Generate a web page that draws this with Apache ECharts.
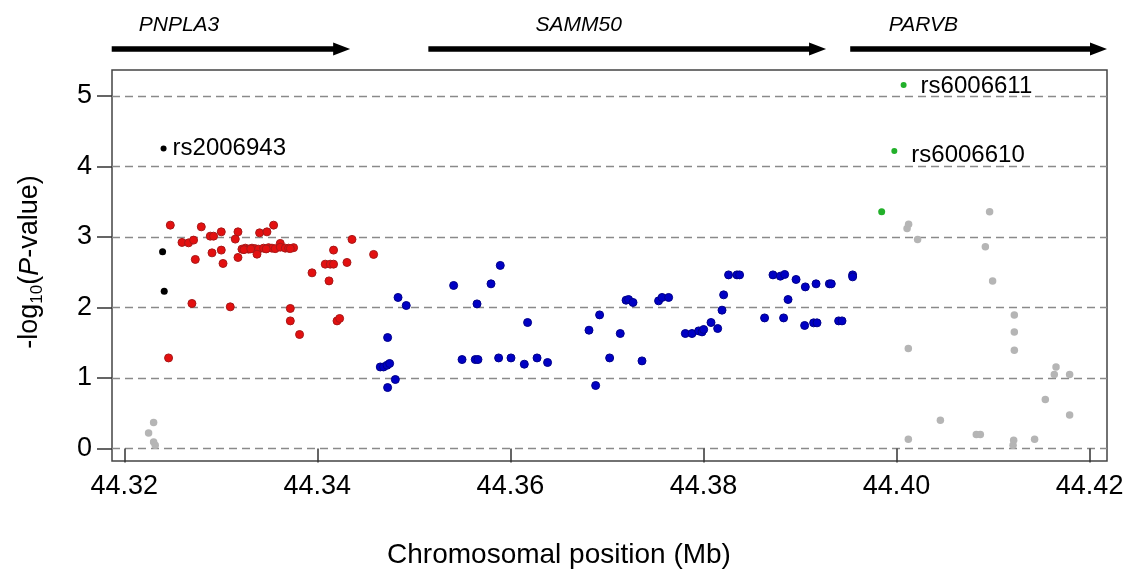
<!DOCTYPE html>
<html>
<head>
<meta charset="utf-8">
<script src="https://cdn.jsdelivr.net/npm/echarts@6/dist/echarts.min.js"></script>
<style>
html,body{margin:0;padding:0;background:#fff;}
#c{width:1132px;height:585px;}
</style>
</head>
<body>
<div id="c"></div>
<script>
// ---------------- data ----------------
const xTicks = [44.32, 44.34, 44.36, 44.38, 44.40, 44.42];
const yTicks = [0, 1, 2, 3, 4, 5];

const genes = ['PNPLA3', 'SAMM50', 'PARVB'];
const geneStart = [44.3187, 44.3515, 44.3952];
const geneEnd = [44.3434, 44.3927, 44.4218];
const geneLabelAt = [44.3215, 44.3626, 44.3992];

const snpIds = ['rs2006943', 'rs6006611', 'rs6006610'];
const snpPos = [44.32407, 44.40073, 44.39977];

const grayX = [44.32304, 44.32252, 44.32304, 44.32321,
  44.40964, 44.40125, 44.40109, 44.40218, 44.40920, 44.40995, 44.41220, 44.41220, 44.41220,
  44.40122, 44.41652, 44.41634, 44.41793, 44.41541, 44.41793, 44.40454, 44.40122, 44.40826,
  44.40868, 44.41213, 44.41207, 44.41430];
const grayY = [0.369, 0.221, 0.094, 0.047,
  3.356, 3.181, 3.121, 2.965, 2.860, 2.377, 1.895, 1.654, 1.394,
  1.418, 1.157, 1.050, 1.050, 0.695, 0.477, 0.401, 0.132, 0.199,
  0.199, 0.118, 0.047, 0.132];

const redX = [44.32477, 44.32798, 44.33005, 44.33178, 44.33402, 44.33478, 44.33547, 44.32598, 44.32666,
  44.32718, 44.32891, 44.32925, 44.33150, 44.32909, 44.33005, 44.33023, 44.32736, 44.33178,
  44.33219, 44.33254, 44.33288, 44.33323, 44.33357, 44.33391, 44.33443, 44.33495, 44.33530,
  44.33564, 44.33616, 44.33616, 44.33668, 44.33702, 44.33754, 44.33375, 44.33240, 44.33310,
  44.33470, 44.33720,
  44.33945, 44.34168, 44.34082, 44.34134, 44.34168, 44.34307, 44.34359, 44.34583, 44.34121,
  44.32701, 44.33098, 44.33720, 44.33720, 44.33816, 44.34204, 44.34231, 44.32459];
const redY = [3.167, 3.143, 3.072, 3.072, 3.058, 3.072, 3.167, 2.922, 2.916,
  2.955, 3.011, 3.011, 2.969, 2.774, 2.813, 2.624, 2.681, 2.709,
  2.827, 2.841, 2.827, 2.841, 2.834, 2.827, 2.841, 2.848, 2.841,
  2.834, 2.908, 2.855, 2.841, 2.841, 2.848, 2.756, 2.820, 2.830,
  2.830, 2.835,
  2.491, 2.813, 2.614, 2.614, 2.614, 2.638, 2.965, 2.752, 2.377,
  2.057, 2.009, 1.986, 1.810, 1.617, 1.810, 1.844, 1.285];

const blackX = [44.32407, 44.32397, 44.32414];
const blackY = [4.255, 2.789, 2.231];

const blueX = [44.34836, 44.34921, 44.34728, 44.34652, 44.34686, 44.34722, 44.34749, 44.34728, 44.34808,
  44.35412, 44.35499, 44.35636, 44.35664, 44.35654, 44.35799, 44.35895, 44.35878, 44.36006,
  44.36144, 44.36178, 44.36276, 44.36385, 44.36814, 44.36883, 44.36924, 44.37028, 44.37138,
  44.37198, 44.37224, 44.37270, 44.37363, 44.37535, 44.37571, 44.37639, 44.37812, 44.37881,
  44.37950, 44.37985, 44.38002, 44.38078, 44.38147, 44.38192, 44.38209, 44.38260, 44.38347,
  44.38374, 44.38633, 44.38720, 44.38796, 44.38841, 44.38830, 44.38876, 44.38959, 44.39055,
  44.39048, 44.39141, 44.39176, 44.39166, 44.39304, 44.39324, 44.39400, 44.39435, 44.39545,
  44.39545];
const blueY = [2.142, 2.028, 1.574, 1.157, 1.157, 1.181, 1.206, 0.865, 0.979,
  2.312, 1.262, 1.262, 1.262, 2.051, 2.335, 2.596, 1.285, 1.285,
  1.196, 1.787, 1.285, 1.220, 1.678, 0.894, 1.895, 1.285, 1.631,
  2.103, 2.113, 2.071, 1.243, 2.094, 2.142, 2.142, 1.631, 1.631,
  1.668, 1.654, 1.688, 1.787, 1.702, 1.962, 2.179, 2.462, 2.462,
  2.462, 1.852, 2.462, 2.444, 2.468, 1.852, 2.113, 2.397, 2.292,
  1.745, 1.782, 1.782, 2.335, 2.335, 2.335, 1.810, 1.810, 2.462,
  2.434];

const greenX = [44.40073, 44.39977, 44.39846];
const greenY = [5.153, 4.217, 3.356];

// ---------------- chart ----------------
const FONT = '"Liberation Sans", Arial, Helvetica, sans-serif';
const labelStyle = {
  rs2006943: { distance: 6, offset: [0, 0] },
  rs6006611: { distance: 14, offset: [0, 1] },
  rs6006610: { distance: 14, offset: [0, 4] }
};

function pts(xs, ys) {
  return xs.map((x, i) => {
    const k = snpPos.indexOf(x);
    if (k >= 0) {
      const id = snpIds[k];
      return {
        value: [x, ys[i]],
        symbolSize: 6,
        label: {
          show: true, position: 'right', formatter: id,
          distance: labelStyle[id].distance, offset: labelStyle[id].offset,
          fontSize: 24, color: '#000', fontFamily: FONT
        }
      };
    }
    return [x, ys[i]];
  });
}

function scatter(name, xs, ys, color, border, size) {
  return {
    name, type: 'scatter', data: pts(xs, ys), symbolSize: size,
    itemStyle: { color, borderColor: border, borderWidth: border ? 1 : 0, opacity: 1 },
    emphasis: { disabled: true }, silent: true, z: 3
  };
}

const geneData = genes.map((g, i) => [geneStart[i], geneEnd[i], geneLabelAt[i], i]);

const chart = echarts.init(document.getElementById('c'), null, { renderer: 'canvas' });
chart.setOption({
  animation: false,
  backgroundColor: '#fff',
  grid: {
    left: 112, right: 25, top: 70, bottom: 124,
    show: true, borderColor: '#444', borderWidth: 1.5, backgroundColor: 'transparent'
  },
  xAxis: {
    type: 'value', min: 44.31873, max: 44.4218,
    axisLine: { show: false },
    axisTick: { show: true, customValues: xTicks, length: 14, lineStyle: { color: '#333', width: 1.5 } },
    axisLabel: {
      customValues: xTicks, formatter: v => v.toFixed(2), fontSize: 27, color: '#000',
      fontFamily: FONT, margin: 12
    },
    splitLine: { show: false }
  },
  yAxis: {
    type: 'value', min: -0.176, max: 5.366,
    axisLine: { show: false },
    axisTick: { show: true, customValues: yTicks, length: 15, lineStyle: { color: '#333', width: 1.5 } },
    axisLabel: { customValues: yTicks, fontSize: 27, color: '#000', fontFamily: FONT, margin: 20 },
    splitLine: { show: true, lineStyle: { color: '#8a8a8a', width: 1.3, type: [8, 5] } }
  },
  graphic: [
    {
      type: 'text', x: 30, y: 262, rotation: Math.PI / 2,
      style: {
        text: '{a|-log}{s|10}{a|(}{i|P}{a|-value)}',
        align: 'center', verticalAlign: 'middle',
        rich: {
          a: { fontSize: 27, fontFamily: FONT, fill: '#000', lineHeight: 32, verticalAlign: 'middle' },
          i: { fontSize: 27, fontFamily: FONT, fill: '#000', fontStyle: 'italic', lineHeight: 32 },
          s: { fontSize: 17, fontFamily: FONT, fill: '#000', lineHeight: 17, verticalAlign: 'bottom', padding: [0, 0, 0, 0] }
        }
      }
    },
    {
      type: 'text', x: 559, y: 555,
      style: {
        text: 'Chromosomal position (Mb)', fontSize: 28, fontFamily: FONT, fill: '#000',
        align: 'center', verticalAlign: 'middle'
      }
    }
  ],
  series: [
    {
      type: 'custom', name: 'genes', data: geneData, clip: false, silent: true,
      encode: { x: [0, 1, 2] },
      renderItem(params, api) {
        const x1 = api.coord([api.value(0), 0])[0];
        const x2 = api.coord([api.value(1), 0])[0];
        const xl = api.coord([api.value(2), 0])[0];
        const cy = params.coordSys.y - 21;
        const head = 17, hh = 6.5, sh = 2.8;
        return {
          type: 'group',
          children: [
            {
              type: 'polygon',
              shape: {
                points: [[x1, cy - sh], [x2 - head, cy - sh], [x2 - head, cy - hh], [x2, cy],
                  [x2 - head, cy + hh], [x2 - head, cy + sh], [x1, cy + sh]]
              },
              style: { fill: '#000' }
            },
            {
              type: 'text', x: xl, y: cy - 24,
              style: {
                text: genes[api.value(3)], fontSize: 21, fontStyle: 'italic', fontFamily: FONT,
                fill: '#000', align: 'left', verticalAlign: 'middle'
              }
            }
          ]
        };
      }
    },
    scatter('gray', grayX, grayY, '#b5b5b5', null, 7.5),
    scatter('blue', blueX, blueY, '#0000c4', '#00008a', 8),
    scatter('red', redX, redY, '#e31010', '#a81818', 8),
    scatter('black', blackX, blackY, '#000', null, 7),
    scatter('green', greenX, greenY, '#22b02a', null, 7)
  ]
});
</script>
</body>
</html>
